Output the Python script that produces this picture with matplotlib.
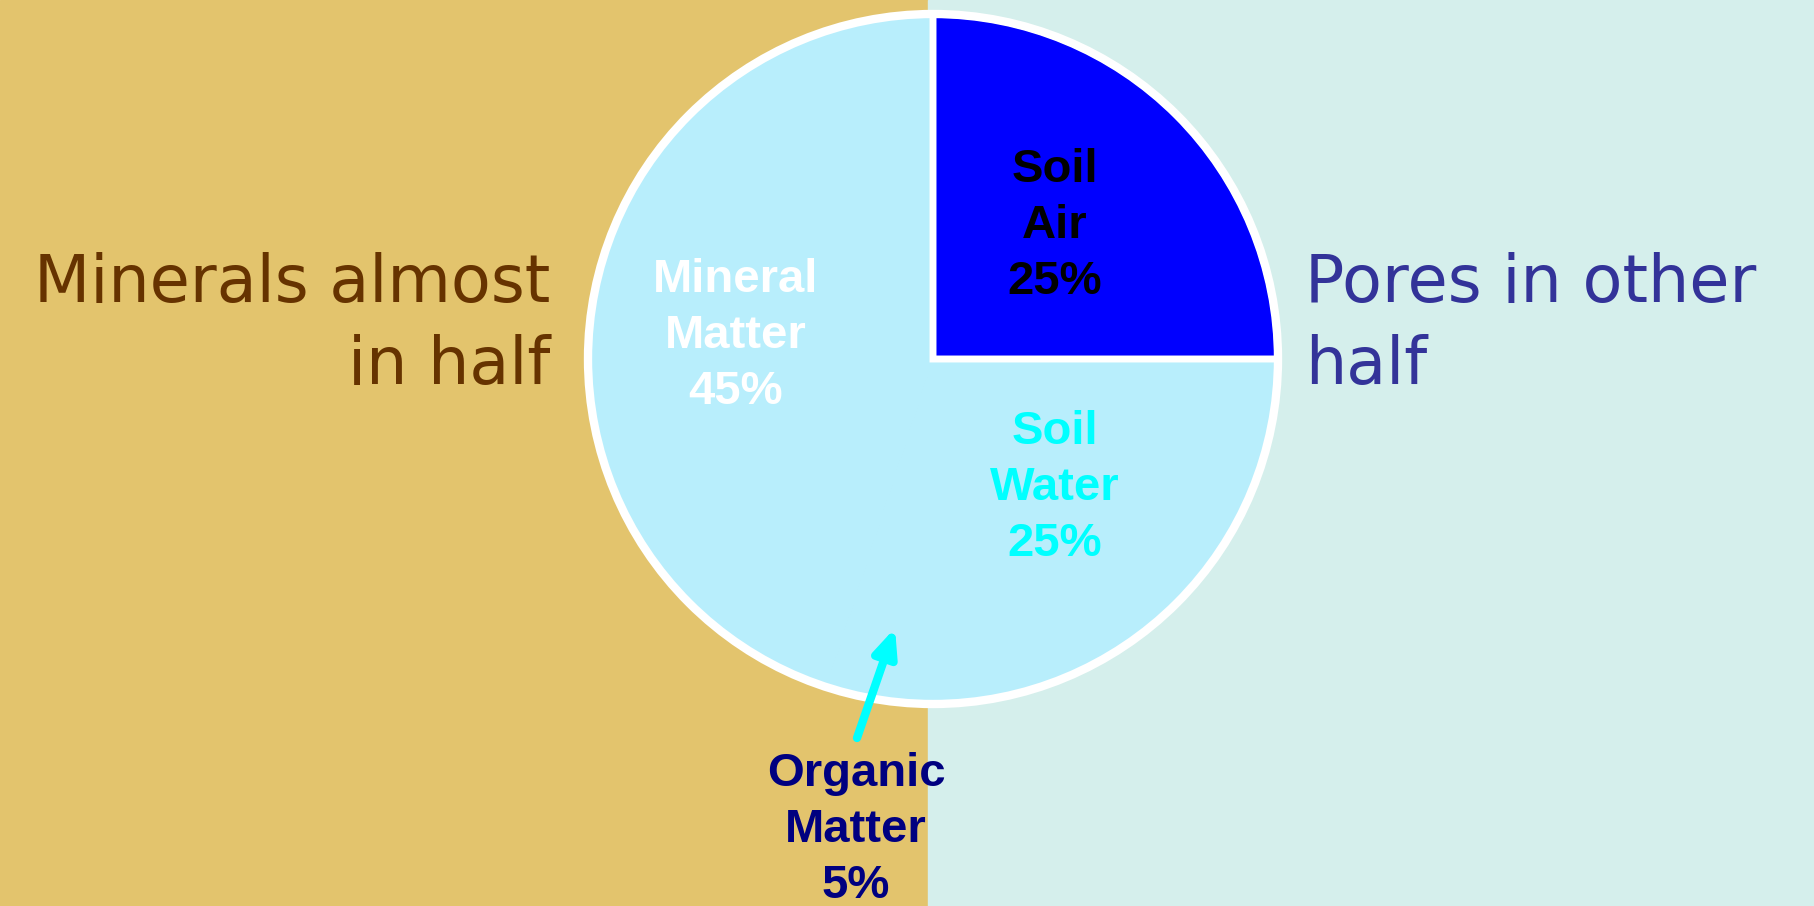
import matplotlib
matplotlib.use('Agg')
import matplotlib.pyplot as plt
from matplotlib.patches import Circle

# soil composition
names = ['Soil\nAir', 'Soil\nWater', 'Organic\nMatter', 'Mineral\nMatter']
shares = [25, 25, 5, 45]
slice_colors = ['#0000FF', '#B8EEFC', '#B8EEFC', '#B8EEFC']
label_colors = ['black', '#00FFFF', '#000080', 'white']

left_note = 'Minerals almost\nin half'
right_note = 'Pores in other\nhalf'

W, H = 1814, 906
fig = plt.figure(figsize=(W / 100, H / 100), dpi=100)
ax = fig.add_axes([0, 0, 1, 1])

# two halves of the background
ax.axvspan(0, 928, color='#E3C46D', zorder=0)
ax.axvspan(928, W, color='#D5EFEC', zorder=0)

cx, cy, R = 933, H - 359, 345
wedges, _ = ax.pie(shares, colors=slice_colors, startangle=90, counterclock=False,
                   center=(cx, cy), radius=R, frame=True)
for w, c in zip(wedges, slice_colors):
    w.set_edgecolor(c)
    w.set_linewidth(1.5)
wedges[0].set_edgecolor('white')
wedges[0].set_linewidth(5)
wedges[0].set_zorder(3)
ax.add_patch(Circle((cx, cy), R, fill=False, edgecolor='white', lw=6, zorder=4))
ax.set_xlim(0, W)
ax.set_ylim(0, H)
ax.set_aspect('equal')
ax.axis('off')

narrow = ['Liberation Sans Narrow', 'Liberation Sans', 'DejaVu Sans']
lab_pos = [(1055, 226), (1055, 488), (856, 830), (736, 336)]
for name, val, col, (x, y) in zip(names, shares, label_colors, lab_pos):
    ax.text(x, H - y, f'{name}\n{val}%', color=col, fontsize=34, fontweight='bold',
            family=narrow, ha='center', va='center', linespacing=1.35, zorder=5)

# arrow to the thin organic slice
ax.annotate('', xy=(895, H - 628), xytext=(857, H - 738),
            arrowprops=dict(arrowstyle='-|>,head_length=1.6,head_width=0.7',
                            color='#00FFFF', lw=6, shrinkA=0, shrinkB=0), zorder=5)

ax.text(550, H - 325, left_note, color='#663300', fontsize=47, family='DejaVu Sans',
        ha='right', va='center', linespacing=1.35, zorder=5)
ax.text(1305, H - 325, right_note, color='#333399', fontsize=47, family='DejaVu Sans',
        ha='left', va='center', linespacing=1.35, zorder=5)

fig.savefig('out.png', dpi=100)
